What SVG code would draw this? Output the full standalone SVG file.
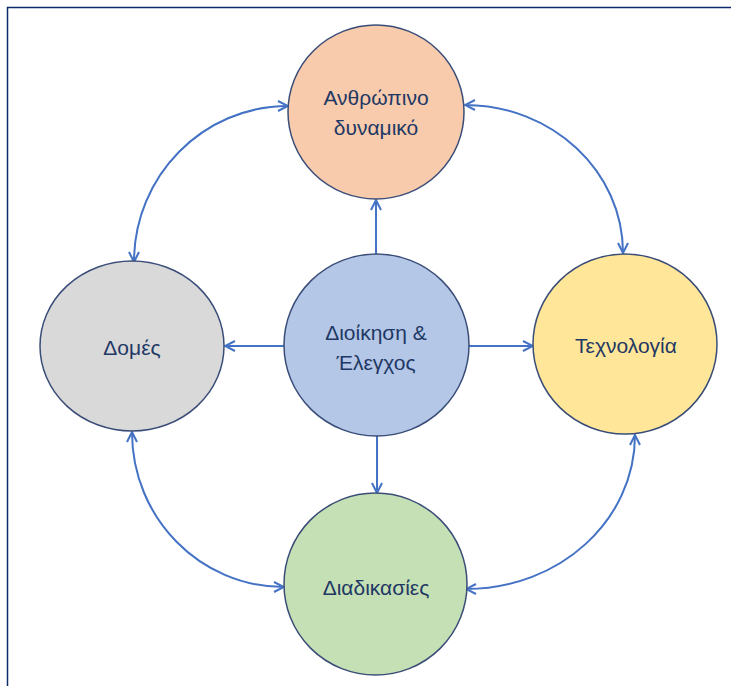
<svg xmlns="http://www.w3.org/2000/svg" width="731" height="686" viewBox="0 0 731 686">
<style>
.node{stroke:#3A4D78;stroke-width:1.5}
.lbl{font-family:"Liberation Sans",Arial,sans-serif;font-size:21px;fill:#1F3864;text-anchor:middle}
.conn{fill:none;stroke:#4472C4;stroke-width:2}
</style>
<defs>
<marker id="ah" viewBox="0 0 12 12" refX="11" refY="6" markerWidth="12" markerHeight="12" markerUnits="userSpaceOnUse" orient="auto-start-reverse">
<path d="M1,1 L11,6 L1,11" fill="none" stroke="#4472C4" stroke-width="2"/>
</marker>
</defs>
<rect x="0" y="0" width="731" height="686" fill="#FFFFFF"/>
<path d="M7.5,686 V7.5 H731" fill="none" stroke="#0E2A6B" stroke-width="1.5"/>
<g id="connectors">
<line class="conn" x1="376" y1="254" x2="376" y2="200" marker-end="url(#ah)"/>
<line class="conn" x1="284" y1="346" x2="225" y2="346" marker-end="url(#ah)"/>
<line class="conn" x1="469" y1="346" x2="533" y2="346" marker-end="url(#ah)"/>
<line class="conn" x1="377" y1="436" x2="377" y2="493" marker-end="url(#ah)"/>
<path class="conn" d="M288,106 C203,106 134,176 134,262" marker-start="url(#ah)" marker-end="url(#ah)"/>
<path class="conn" d="M465,105 C552,105 623,171 623,253" marker-start="url(#ah)" marker-end="url(#ah)"/>
<path class="conn" d="M132,432 C132,518 200,587 284,587" marker-start="url(#ah)" marker-end="url(#ah)"/>
<path class="conn" d="M635,435 C635,520 560,589 466,589" marker-start="url(#ah)" marker-end="url(#ah)"/>
</g>
<g id="node-anthropino">
<ellipse class="node" cx="376" cy="112" rx="88" ry="87" fill="#F8CBAD"/>
<text class="lbl" x="376" y="105">Ανθρώπινο</text>
<text class="lbl" x="376" y="135">δυναμικό</text>
</g>
<g id="node-domes">
<ellipse class="node" cx="132" cy="346" rx="92" ry="85" fill="#D9D9D9"/>
<text class="lbl" x="132" y="355">Δομές</text>
</g>
<g id="node-dioikisi">
<ellipse class="node" cx="376.5" cy="345" rx="92.5" ry="91" fill="#B4C7E7"/>
<text class="lbl" x="376" y="340">Διοίκηση &amp;</text>
<text class="lbl" x="376" y="370">Έλεγχος</text>
</g>
<g id="node-technologia">
<ellipse class="node" cx="625" cy="344" rx="92" ry="90" fill="#FFE699"/>
<text class="lbl" x="626" y="353">Τεχνολογία</text>
</g>
<g id="node-diadikasies">
<ellipse class="node" cx="375.5" cy="584" rx="91.5" ry="91" fill="#C5E0B4"/>
<text class="lbl" x="376" y="595">Διαδικασίες</text>
</g>
</svg>
